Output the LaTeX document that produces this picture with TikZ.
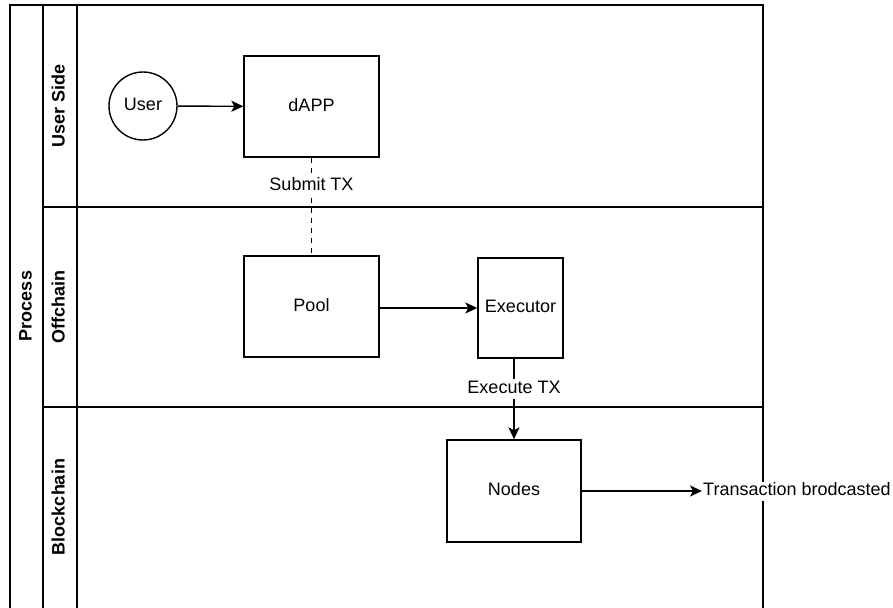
\documentclass[tikz,border=0pt]{standalone}
\usepackage{fontspec}
\setmainfont{Liberation Sans}
\usetikzlibrary{arrows.meta}
\begin{document}
\begin{tikzpicture}[x=1pt,y=-1pt,
  every node/.style={font=\fontsize{18}{22}\selectfont, text height=13pt, text depth=4pt},
  frame/.style={line width=1.4pt},
  box/.style={draw, line width=1.4pt, minimum width=135pt, minimum height=101pt, inner sep=0pt},
  actor/.style={draw, circle, line width=1.4pt, minimum size=68pt, inner sep=0pt},
  lanelabel/.style={rotate=90, font=\bfseries\fontsize{18}{22}\selectfont},
  flow/.style={line width=1.4pt, -{Stealth[length=12pt,width=11pt,inset=3pt]}},
  link/.style={line width=1.4pt, dash pattern=on 5pt off 5pt},
  edgelabel/.style={fill=white, inner sep=1.5pt}]
\useasboundingbox (0,0) rectangle (893,607);

% pool frame with lanes
\draw[frame] (10,608) -- (10,5) -- (763,5) -- (763,608);
\draw[frame] (43,5) -- (43,608);
\draw[frame] (77,5) -- (77,608);
\draw[frame] (43,207) -- (763,207);
\draw[frame] (43,407) -- (763,407);

% pool and lane titles
\node[lanelabel] (process) at (27,306) {Process};
\node[lanelabel] (userside) at (60,106) {User Side};
\node[lanelabel] (offchain) at (60,307) {Offchain};
\node[lanelabel] (blockchain) at (60,507) {Blockchain};

% process elements
\node[actor] (user) at (143,106) {User};
\node[box] (dapp) at (311.5,106.5) {dAPP};
\node[box] (pool) at (311.5,306.5) {Pool};
\node[box, minimum width=85pt, minimum height=100pt] (exec) at (520.5,308) {Executor};
\node[box, minimum width=134pt, minimum height=102pt] (nodes) at (514,491) {Nodes};
\node[anchor=west, fill=white, inner sep=1pt] (bcast) at (702,491) {Transaction brodcasted};

% connectors
\draw[flow] (user) -- (dapp);
\draw[link] (dapp) -- node[edgelabel, pos=0.29] (submit) {Submit TX} (pool);
\draw[flow] (pool.east |- exec.west) -- (exec.west);
\draw[flow] (exec.south -| nodes.north) -- node[edgelabel, pos=0.38] (execute) {Execute TX} (nodes.north);
\draw[flow] (nodes.east) -- (bcast.west);
\end{tikzpicture}
\end{document}
